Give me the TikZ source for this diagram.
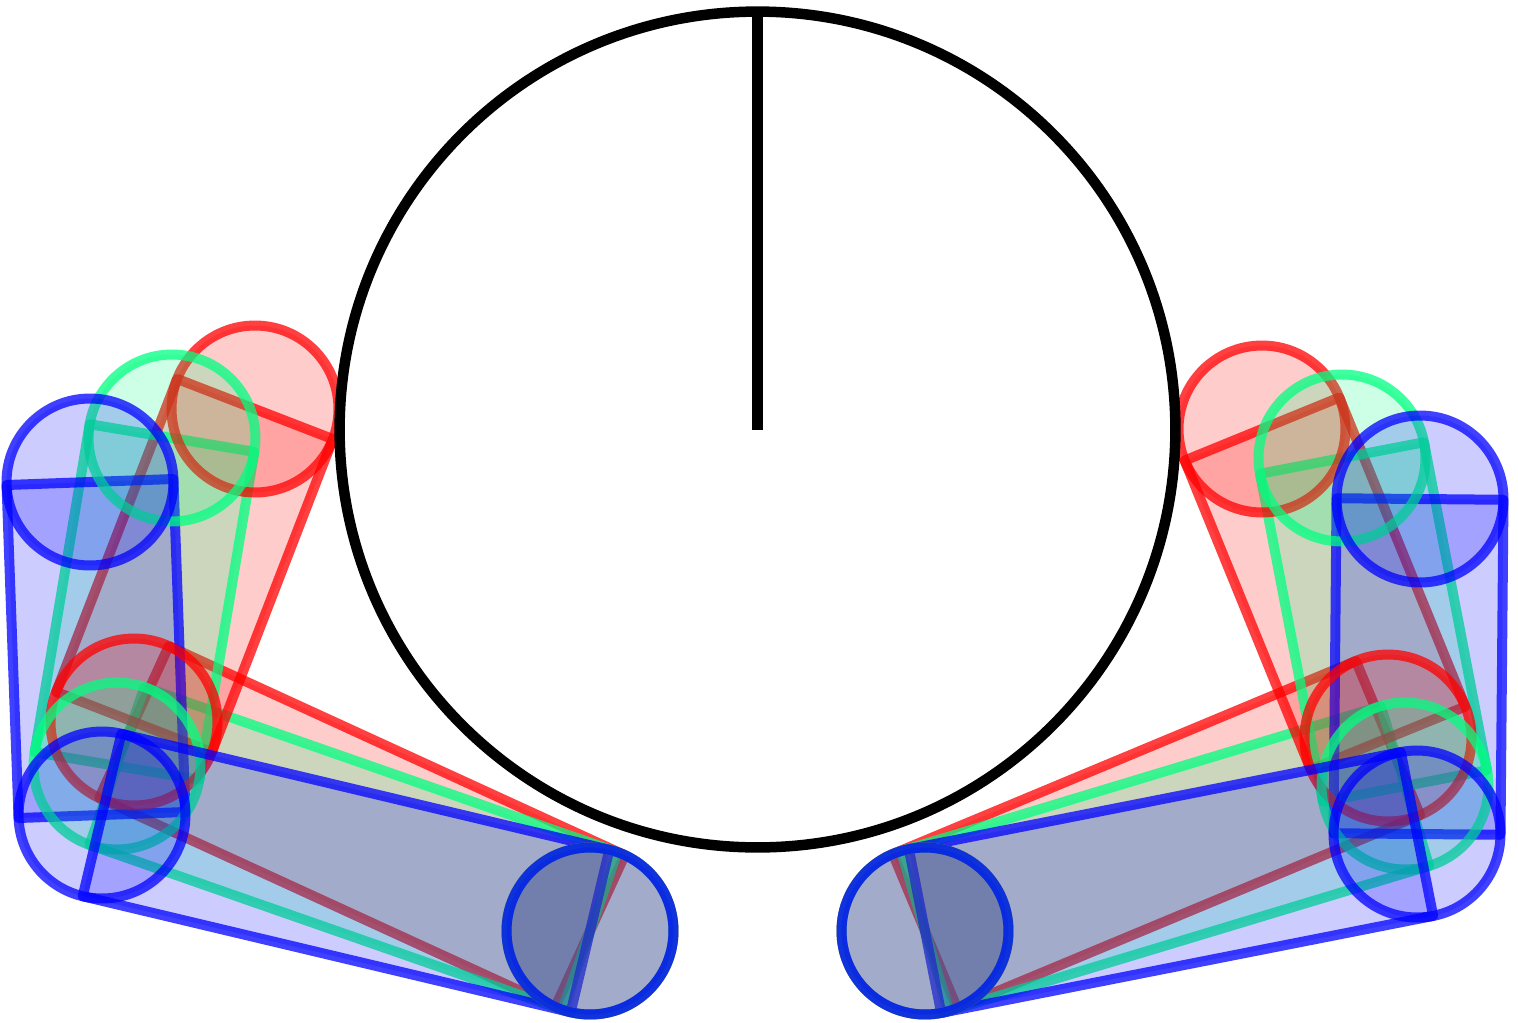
\documentclass[tikz,border=0pt]{standalone}
\usetikzlibrary{calc}
\definecolor{armred}{RGB}{255,0,0}
\definecolor{armgreen}{RGB}{0,255,128}
\definecolor{armblue}{RGB}{0,0,255}
\tikzset{
  limb/.style={draw=#1, fill=#1, draw opacity=0.75, fill opacity=0.2, line width=0.2cm, line join=round},
}
\newcommand{\armlist}{lr/armred, lg/armgreen, lb/armblue, rr/armred, rg/armgreen, rb/armblue}
\newcommand{\quadbetween}[3]{\draw[limb=#3] ($(#1)!1.67cm!90:(#2)$) -- ($(#1)!1.67cm!-90:(#2)$) -- ($(#2)!1.67cm!90:(#1)$) -- ($(#2)!1.67cm!-90:(#1)$) -- cycle;}
\begin{document}
\begin{tikzpicture}[x=0.02cm, y=-0.02cm]
\useasboundingbox (0,0) rectangle (1518,1022);
% shoulders, elbows, hands
\coordinate (lrs) at (255,409);
\coordinate (lre) at (134,722);
\coordinate (lgs) at (172,438);
\coordinate (lge) at (117,766);
\coordinate (lbs) at (90,482);
\coordinate (lbe) at (102,815);
\coordinate (rrs) at (1262,429);
\coordinate (rre) at (1388,738);
\coordinate (rgs) at (1342,458);
\coordinate (rge) at (1405,786);
\coordinate (rbs) at (1420,499);
\coordinate (rbe) at (1417,834);
\foreach \arm in {lr,lg,lb} {\coordinate (\arm h) at (590,931);}
\foreach \arm in {rr,rg,rb} {\coordinate (\arm h) at (925,931);}
% limbs first
\foreach \arm/\col in {lr/armred, lg/armgreen, rr/armred, rg/armgreen} {
  \quadbetween{\arm e}{\arm h}{\col}
}
\foreach \arm/\col in \armlist {
  \quadbetween{\arm s}{\arm e}{\col}
}
% then the joints
\foreach \arm/\col in \armlist {
  \draw[limb=\col] (\arm s) circle[radius=1.67cm];
  \draw[limb=\col] (\arm e) circle[radius=1.67cm];
}
\foreach \arm/\col in {lb/armblue, rb/armblue} {
  \quadbetween{\arm e}{\arm h}{\col}
}
\foreach \arm/\col in \armlist {
  \draw[limb=\col] (\arm h) circle[radius=1.67cm];
}
% head
\coordinate (crown) at (757.5,11.5);
\coordinate (centre) at (757.5,429.5);
\draw[line width=0.21cm] (centre) circle[radius=8.36cm];
\draw[line width=0.21cm] (crown) -- (centre);
\end{tikzpicture}
\end{document}
